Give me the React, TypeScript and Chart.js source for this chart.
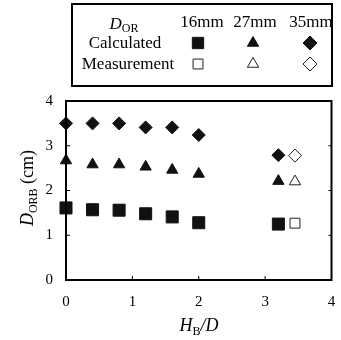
import React, { useEffect, useRef } from "react";
import { Chart, registerables } from "chart.js";
import { drawPoint } from "chart.js/helpers";

Chart.register(...registerables);

const xCalc = [0, 0.4, 0.8, 1.2, 1.6, 2.0, 3.2];
const calc16 = [1.61, 1.57, 1.56, 1.48, 1.41, 1.28, 1.25];
const calc27 = [2.67, 2.58, 2.58, 2.53, 2.46, 2.37, 2.21];
const calc35 = [3.5, 3.5, 3.5, 3.41, 3.41, 3.24, 2.79];
const xMeas = [3.45];
const meas16 = [1.27];
const meas27 = [2.2];
const meas35 = [2.78];
const sizeLabels = ["16mm", "27mm", "35mm"];
const rowLabels = ["Calculated", "Measurement"];

const SERIF = "'Liberation Serif', 'DejaVu Serif', serif";

const pts = (xs: number[], ys: number[]) => xs.map((x, i) => ({ x, y: ys[i] }));

function drawSubText(
  ctx: CanvasRenderingContext2D,
  cx: number,
  cy: number,
  main: string,
  sub: string,
  after: string,
  size: number,
  afterItalic: boolean
) {
  const mainFont = `italic ${size}px ${SERIF}`;
  const subFont = `${Math.round(size * 0.68)}px ${SERIF}`;
  const afterFont = `${afterItalic ? "italic " : ""}${size}px ${SERIF}`;
  ctx.font = mainFont;
  const w1 = ctx.measureText(main).width;
  ctx.font = subFont;
  const w2 = ctx.measureText(sub).width;
  ctx.font = afterFont;
  const w3 = ctx.measureText(after).width;
  const total = w1 + w2 + w3;
  let x = cx - total / 2;
  ctx.textBaseline = "alphabetic";
  ctx.textAlign = "left";
  const base = cy + size * 0.35;
  ctx.font = mainFont;
  ctx.fillText(main, x, base);
  x += w1;
  ctx.font = subFont;
  ctx.fillText(sub, x, base + size * 0.18);
  x += w2;
  ctx.font = afterFont;
  ctx.fillText(after, x, base);
}

const decorPlugin = {
  id: "decor",
  afterDraw(chart: any) {
    const ctx: CanvasRenderingContext2D = chart.ctx;
    const { left, right, top, bottom } = chart.chartArea;
    const xs = chart.scales.x;
    const ys = chart.scales.y;
    ctx.save();
    ctx.strokeStyle = "#000";
    ctx.fillStyle = "#000";
    // frame
    ctx.lineWidth = 2;
    ctx.strokeRect(left, top, right - left, bottom - top);
    // inner ticks
    ctx.lineWidth = 1;
    ctx.beginPath();
    for (let v = 1; v <= 3; v++) {
      const px = xs.getPixelForValue(v);
      ctx.moveTo(px, bottom);
      ctx.lineTo(px, bottom - 4);
      const py = ys.getPixelForValue(v);
      ctx.moveTo(left, py);
      ctx.lineTo(left + 4, py);
      ctx.moveTo(right, py);
      ctx.lineTo(right - 3, py);
    }
    ctx.stroke();
    // x title
    drawSubText(ctx, 199, 325, "H", "B", "/D", 18, true);
    // y title
    ctx.save();
    ctx.translate(27, 188);
    ctx.rotate(-Math.PI / 2);
    drawSubText(ctx, 0, 0, "D", "ORB", " (cm)", 18, false);
    ctx.restore();

    // legend box
    ctx.lineWidth = 2;
    ctx.strokeRect(72, 4, 260, 82);
    drawSubText(ctx, 124, 23, "D", "OR", "", 17, false);
    ctx.font = `17px ${SERIF}`;
    ctx.textAlign = "center";
    ctx.textBaseline = "middle";
    const cols = [202, 255, 311];
    sizeLabels.forEach((s, i) => ctx.fillText(s, cols[i], 23));
    ctx.fillText(rowLabels[0], 125, 44);
    ctx.fillText(rowLabels[1], 128, 65);
    const styles = ["rect", "triangle", "rectRot"];
    const rFill = [8, 6.5, 7];
    const rOpen = [7, 6.5, 7];
    const mx = [198, 253, 310];
    styles.forEach((st, i) => {
      ctx.fillStyle = "#111";
      ctx.strokeStyle = "#111";
      ctx.lineWidth = 1;
      drawPoint(ctx, { pointStyle: st, radius: rFill[i], rotation: 0, borderWidth: 1 } as any, mx[i], 43);
      ctx.fillStyle = "#fff";
      ctx.strokeStyle = "#222";
      drawPoint(ctx, { pointStyle: st, radius: rOpen[i], rotation: 0, borderWidth: 1 } as any, mx[i], 64);
    });
    ctx.restore();
  },
};

export default function App() {
  const ref = useRef<HTMLCanvasElement>(null);
  useEffect(() => {
    if (!ref.current) return;
    const filled = (label: string, data: any, style: string, r: number) => ({
      label,
      data,
      pointStyle: style,
      pointRadius: r,
      pointBackgroundColor: "#111",
      pointBorderColor: "#111",
      pointBorderWidth: 1,
      showLine: false,
    });
    const open = (label: string, data: any, style: string, r: number) => ({
      label,
      data,
      pointStyle: style,
      pointRadius: r,
      pointBackgroundColor: "#fff",
      pointBorderColor: "#222",
      pointBorderWidth: 1,
      showLine: false,
    });
    const chart = new Chart(ref.current, {
      type: "scatter",
      data: {
        datasets: [
          filled("Calculated 16mm", pts(xCalc, calc16), "rect", 8.5),
          filled("Calculated 27mm", pts(xCalc, calc27), "triangle", 6.5),
          filled("Calculated 35mm", pts(xCalc, calc35), "rectRot", 6.5),
          open("Measurement 16mm", pts(xMeas, meas16), "rect", 7),
          open("Measurement 27mm", pts(xMeas, meas27), "triangle", 6.5),
          open("Measurement 35mm", pts(xMeas, meas35), "rectRot", 6.5),
        ] as any,
      },
      options: {
        animation: false,
        responsive: false,
        clip: false as any,
        layout: { padding: { top: 101, right: 6, bottom: 0, left: 0 } },
        plugins: { legend: { display: false }, tooltip: { enabled: false } },
        scales: {
          x: {
            type: "linear",
            min: 0,
            max: 4,
            afterFit: (s: any) => {
              s.height = 60;
              s.paddingLeft = 0;
              s.paddingRight = 0;
            },
            ticks: {
              stepSize: 1,
              color: "#000",
              font: { family: SERIF, size: 15 },
              padding: 13,
            },
            grid: { display: false, drawTicks: false },
            border: { display: true, color: "#000", width: 2 },
          },
          y: {
            type: "linear",
            min: 0,
            max: 4,
            afterFit: (s: any) => {
              s.width = 66;
              s.paddingTop = 0;
              s.paddingBottom = 0;
            },
            ticks: {
              stepSize: 1,
              color: "#000",
              font: { family: SERIF, size: 15 },
              padding: 13,
            },
            grid: { display: false, drawTicks: false },
            border: { display: true, color: "#000", width: 2 },
          },
        },
      },
      plugins: [decorPlugin],
    });
    return () => chart.destroy();
  }, []);
  return (
    <div style={{ position: "fixed", left: 0, top: 0, width: 341, height: 340, background: "#fff" }}>
      <canvas ref={ref} width={341} height={340} style={{ width: 341, height: 340 }} />
    </div>
  );
}
